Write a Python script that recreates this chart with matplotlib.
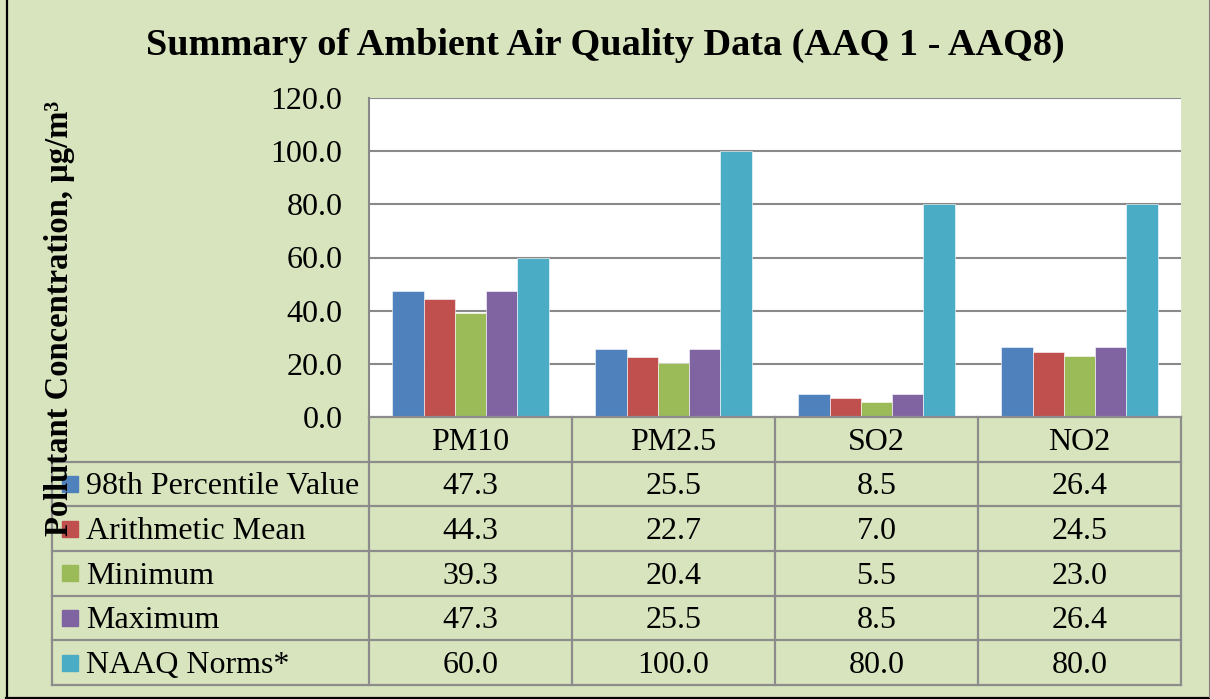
import numpy as np
import matplotlib
matplotlib.use('Agg')
import matplotlib.pyplot as plt

# data
categories = ['PM10', 'PM2.5', 'SO2', 'NO2']
series_names = ['98th Percentile Value', 'Arithmetic Mean', 'Minimum', 'Maximum', 'NAAQ Norms*']
p98 = [47.3, 25.5, 8.5, 26.4]
mean = [44.3, 22.7, 7.0, 24.5]
minimum = [39.3, 20.4, 5.5, 23.0]
maximum = [47.3, 25.5, 8.5, 26.4]
naaq = [60.0, 100.0, 80.0, 80.0]
yticks = [0, 20, 40, 60, 80, 100, 120]

series = [p98, mean, minimum, maximum, naaq]
colors = ['#4F81BD', '#C0504D', '#9BBB59', '#8064A2', '#4BACC6']
bg = '#D8E4BD'
grid_c = '#898989'

plt.rcParams['font.family'] = ['Liberation Serif', 'DejaVu Serif']

W, H = 1210, 699
fig = plt.figure(figsize=(W / 100, H / 100), dpi=100, facecolor=bg)

def box(l, t, r, b):
    return [l / W, 1 - b / H, (r - l) / W, (b - t) / H]

# outer frame
frame = fig.add_axes([0, 0, 1, 1])
frame.set_xlim(0, W)
frame.set_ylim(H, 0)
frame.axis('off')
frame.plot([6.5, 6.5], [0, 697.5], color='black', lw=1.6)
frame.plot([6, 1210], [697.5, 697.5], color='black', lw=1.6)
frame.plot([1209, 1209], [0, 697], color='#808080', lw=0.8)

# plot area
ax = fig.add_axes(box(369, 98, 1181, 417))
ax.set_facecolor('white')
x = np.arange(len(categories))
w = 1 / 6.5
for i, (vals, c) in enumerate(zip(series, colors)):
    ax.bar(x + (i - 2) * w, vals, width=w, color=c, edgecolor='white', linewidth=0.4, zorder=3)
ax.set_xlim(-0.5, 3.5)
ax.set_ylim(0, 120)
ax.set_yticks(yticks)
ax.set_yticklabels(['%.1f' % v for v in yticks], fontsize=23)
ax.tick_params(axis='y', length=0, pad=19)
ax.set_xticks([])
for v in yticks[1:]:
    ax.axhline(v, color=grid_c, lw=1.5, zorder=1)
for s in ['top', 'right', 'bottom']:
    ax.spines[s].set_visible(False)
ax.spines['left'].set_color(grid_c)
ax.spines['left'].set_linewidth(1.5)

# data table
tab = fig.add_axes(box(52, 417, 1181, 685))
xl = -0.5 - (369 - 52) / 203.0
tab.set_xlim(xl, 3.5)
tab.set_ylim(6, 0)
tab.axis('off')
lc = '#8C8C8C'
tab.plot([-0.5, 3.5], [0, 0], color=lc, lw=1.6, clip_on=False)
for r in range(1, 7):
    tab.plot([xl, 3.5], [r, r], color=lc, lw=1.6, clip_on=False)
for k in range(5):
    tab.plot([-0.5 + k, -0.5 + k], [0, 6], color=lc, lw=1.6, clip_on=False)
tab.plot([xl, xl], [1, 6], color=lc, lw=1.6, clip_on=False)

dy = 0.06  # text sits a bit low in the cells
for j, cat in enumerate(categories):
    tab.text(j, 0.5 + dy, cat, ha='center', va='center', fontsize=23)
for i, (name, vals, c) in enumerate(zip(series_names, series, colors)):
    row = i + 1.5
    kx = xl + 10 / 203.0
    tab.add_patch(plt.Rectangle((kx, row - 0.18), 16 / 203.0, 0.36, color=c, clip_on=False))
    tab.text(xl + 34 / 203.0, row + dy, name, ha='left', va='center', fontsize=23)
    for j, v in enumerate(vals):
        tab.text(j, row + dy, '%.1f' % v, ha='center', va='center', fontsize=23)

# titles
fig.text(605 / W, 1 - 45 / H, 'Summary of Ambient Air Quality Data (AAQ 1 - AAQ8)',
         ha='center', va='center', fontsize=27.5, fontweight='bold')
fig.text(60 / W, 1 - 318 / H, 'Pollutant Concentration, µg/m³', rotation=90,
         ha='center', va='center', fontsize=23.5, fontweight='bold')

fig.savefig('out.png', dpi=100, facecolor=bg)
